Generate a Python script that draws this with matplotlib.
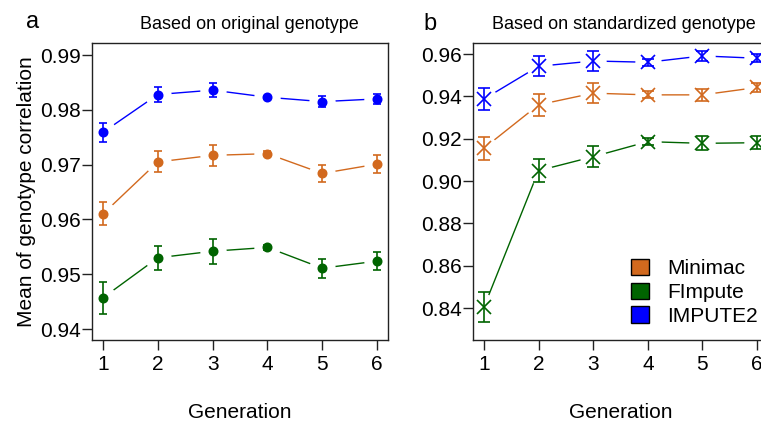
import numpy as np
import matplotlib
matplotlib.use("Agg")
import matplotlib.pyplot as plt
from matplotlib.patches import Patch

plt.rcParams["font.family"] = ["Liberation Sans", "DejaVu Sans"]

generations = [1, 2, 3, 4, 5, 6]
methods = ["Minimac", "FImpute", "IMPUTE2"]
colors = {"Minimac": "#D2691E", "FImpute": "#006400", "IMPUTE2": "#0000FF"}

# panel a: original genotype
orig_mean = {
    "Minimac": [0.9610, 0.9705, 0.9717, 0.9720, 0.9684, 0.9701],
    "FImpute": [0.9457, 0.9530, 0.9542, 0.9549, 0.9511, 0.9524],
    "IMPUTE2": [0.9759, 0.9828, 0.9836, 0.9823, 0.9815, 0.9820],
}
orig_err = {
    "Minimac": [0.0021, 0.0019, 0.0019, 0.0004, 0.0016, 0.0016],
    "FImpute": [0.0029, 0.0022, 0.0023, 0.0005, 0.0017, 0.0017],
    "IMPUTE2": [0.0017, 0.0014, 0.0013, 0.0003, 0.0010, 0.0009],
}

# panel b: standardized genotype
std_mean = {
    "Minimac": [0.9155, 0.9360, 0.9415, 0.9407, 0.9407, 0.9442],
    "FImpute": [0.8404, 0.9049, 0.9115, 0.9186, 0.9178, 0.9181],
    "IMPUTE2": [0.9387, 0.9542, 0.9567, 0.9561, 0.9591, 0.9580],
}
std_err = {
    "Minimac": [0.0055, 0.0052, 0.0047, 0.0017, 0.0027, 0.0020],
    "FImpute": [0.0071, 0.0055, 0.0050, 0.0015, 0.0033, 0.0030],
    "IMPUTE2": [0.0053, 0.0047, 0.0049, 0.0017, 0.0022, 0.0020],
}

W, H = 761, 422
fig = plt.figure(figsize=(W / 100, H / 100), dpi=100)


def px_axes(x0, x1, y0, y1):
    # pixel box -> figure fraction
    return fig.add_axes([x0 / W, 1 - y1 / H, (x1 - x0) / W, (y1 - y0) / H])


def draw_panel(ax, means, errs, marker, msize, capsize):
    for m in methods:
        c = colors[m]
        ax.plot(generations, means[m], "-", color=c, lw=1.0, zorder=1)
        # white discs leave gaps between line and points (like R type="b")
        ax.plot(generations, means[m], "o", color="white", ms=19, mew=0, zorder=1.5)
        ax.errorbar(generations, means[m], yerr=errs[m], fmt=marker, color=c,
                    ms=msize, mew=1.2, elinewidth=1.2, capsize=capsize,
                    capthick=1.2, zorder=3)


def style(ax):
    for s in ax.spines.values():
        s.set_linewidth(1.0)
        s.set_color("#222222")
    ax.tick_params(direction="out", length=7, width=1.0, labelsize=15,
                   color="#222222")
    ax.tick_params(axis="y", pad=1)
    ax.tick_params(axis="x", pad=4)
    ax.set_xticks(generations)
    ax.set_xlim(0.8, 6.2)
    ax.set_xlabel("Generation", fontsize=15, labelpad=21)


ax1 = px_axes(92, 388, 43, 340)
draw_panel(ax1, orig_mean, orig_err, "o", 6, 3)
style(ax1)
ax1.set_ylim(0.938, 0.9922)
ax1.set_yticks([0.94, 0.95, 0.96, 0.97, 0.98, 0.99])
ax1.set_yticklabels(["0.94", "0.95", "0.96", "0.97", "0.98", "0.99"])
ax1.set_ylabel("Mean of genotype correlation", fontsize=15, labelpad=3)
ax1.set_title("Based on original genotype", fontsize=13, pad=10, x=0.53)
fig.text(33 / W, 1 - 22 / H, "a", fontsize=17, ha="center", va="center")

ax2 = px_axes(473, 768, 43, 340)
draw_panel(ax2, std_mean, std_err, "x", 10, 4)
style(ax2)
ax2.set_ylim(0.8249, 0.9652)
ax2.set_yticks([0.84, 0.86, 0.88, 0.90, 0.92, 0.94, 0.96])
ax2.set_yticklabels(["0.84", "0.86", "0.88", "0.90", "0.92", "0.94", "0.96"])
ax2.set_title("Based on standardized genotype", fontsize=13, pad=10, x=0.51)
fig.text(430 / W, 1 - 24 / H, "b", fontsize=17, ha="center", va="center")

handles = [Patch(facecolor=colors[m], edgecolor="black", lw=1.0, label=m) for m in methods]
ax2.legend(handles=handles, loc="lower right", bbox_to_anchor=(0.995, 0.02),
           frameon=False, fontsize=15, handlelength=0.85, handleheight=0.85,
           handletextpad=0.9, labelspacing=0.2, borderaxespad=0)

fig.savefig("out.png", dpi=100)
